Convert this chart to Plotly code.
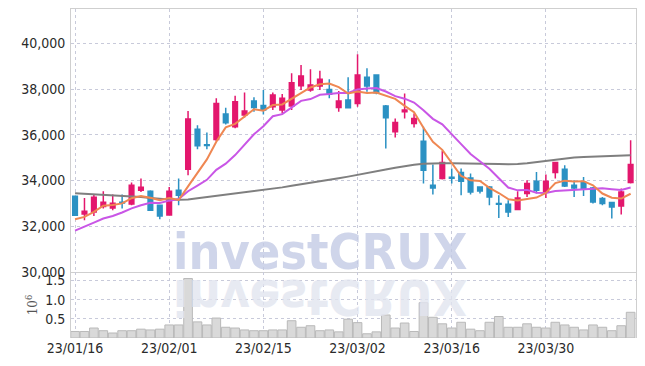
import plotly.graph_objects as go

dates = [
    "2023-01-16", "2023-01-17", "2023-01-18", "2023-01-19", "2023-01-20",
    "2023-01-25", "2023-01-26", "2023-01-27", "2023-01-30", "2023-01-31",
    "2023-02-01", "2023-02-02", "2023-02-03", "2023-02-06", "2023-02-07",
    "2023-02-08", "2023-02-09", "2023-02-10", "2023-02-13", "2023-02-14",
    "2023-02-15", "2023-02-16", "2023-02-17", "2023-02-20", "2023-02-21",
    "2023-02-22", "2023-02-23", "2023-02-24", "2023-02-27", "2023-02-28",
    "2023-03-02", "2023-03-03", "2023-03-06", "2023-03-07", "2023-03-08",
    "2023-03-09", "2023-03-10", "2023-03-13", "2023-03-14", "2023-03-15",
    "2023-03-16", "2023-03-17", "2023-03-20", "2023-03-21", "2023-03-22",
    "2023-03-23", "2023-03-24", "2023-03-27", "2023-03-28", "2023-03-29",
    "2023-03-30", "2023-03-31", "2023-04-03", "2023-04-04", "2023-04-05",
    "2023-04-06", "2023-04-07", "2023-04-10", "2023-04-11", "2023-04-12",
]

open_ = [33314, 32539, 32627, 32863, 32802, 33051, 32977, 33577, 33533, 32920,
         32496, 33577, 34496, 36247, 35560, 35796, 36904, 36348, 36860, 37473,
         37285, 37224, 37079, 37254, 38143, 37955, 38130, 37985, 37197, 37517,
         37373, 38511, 38611, 37254, 36129, 37005, 36497, 35722, 33796, 34089,
         34146, 34352, 34115, 33721, 33721, 32995, 32964, 32732, 33432, 33971,
         33502, 34352, 34496, 33796, 33914, 33677, 33213, 33038, 32890, 33914]
high = [33350, 33240, 33415, 33533, 33389, 33389, 33914, 34089, 33577, 32942,
        33722, 34089, 37035, 36422, 36103, 37592, 37180, 37705, 37854, 37636,
        37955, 37854, 37780, 38686, 39049, 38861, 38800, 38423, 37911, 38511,
        39518, 38905, 38640, 37298, 36716, 37810, 36935, 36348, 34702, 35297,
        34527, 34527, 34308, 33750, 33765, 33358, 33139, 33533, 34015, 34377,
        34264, 34800, 34671, 34015, 34159, 33720, 33284, 33060, 33651, 35766]
low = [32450, 32263, 32452, 32776, 32701, 32776, 32920, 33502, 32680, 32307,
       32482, 32920, 34233, 35372, 35372, 35722, 36453, 36291, 36760, 37005,
       36882, 37079, 36935, 37079, 37955, 37880, 37955, 37592, 37005, 37170,
       37224, 37880, 37767, 35402, 35884, 36716, 36322, 33870, 33389, 34050,
       33870, 33358, 33389, 33432, 32920, 32364, 32408, 32700, 33284, 33432,
       33240, 34089, 33721, 33284, 33327, 32995, 32920, 32338, 32513, 33870]
close = [32482, 32657, 33270, 33051, 33008, 33020, 33796, 33708, 32701, 32452,
         33533, 33358, 36685, 35516, 35534, 37373, 36523, 37443, 37035, 37197,
         37079, 37736, 37592, 38274, 38568, 38174, 38423, 37767, 37473, 37180,
         38611, 38130, 37837, 36742, 36541, 37079, 36716, 34452, 33677, 34790,
         34102, 33971, 33502, 33546, 33284, 32964, 32627, 33240, 33870, 33577,
         33971, 34790, 33765, 33677, 33651, 33065, 32995, 32846, 33502, 34702]

ma5 = [32310, 32410, 32630, 32900, 32930, 33001, 33229, 33317, 33247, 33135,
       33238, 33150, 33746, 34309, 34925, 35693, 36326, 36478, 36782, 37114,
       37055, 37298, 37328, 37576, 37850, 38069, 38206, 38241, 38081, 37803,
       37891, 37832, 37846, 37700, 37572, 37266, 36983, 36306, 35693, 35343,
       34747, 34198, 34008, 33982, 33681, 33453, 33185, 33132, 33197, 33256,
       33457, 33890, 33995, 33956, 33971, 33790, 33431, 33247, 33212, 33422]
ma10 = [31810, 31970, 32160, 32340, 32450, 32600, 32780, 32920, 33030, 33015,
        33120, 33190, 33531, 33778, 34030, 34466, 34738, 35112, 35545, 36020,
        36374, 36812, 36903, 37179, 37482, 37562, 37752, 37785, 37828, 37827,
        37980, 38019, 38044, 37891, 37688, 37578, 37408, 37076, 36697, 36458,
        36007, 35591, 35157, 34838, 34512, 34100, 33692, 33570, 33590, 33468,
        33455, 33537, 33563, 33577, 33613, 33623, 33660, 33621, 33584, 33696]
ma60 = [33440, 33420, 33400, 33380, 33360, 33340, 33310, 33280, 33240, 33200,
        33170, 33160, 33170, 33220, 33270, 33320, 33370, 33420, 33470, 33520,
        33575, 33640, 33700, 33770, 33830, 33900, 33960, 34030, 34100, 34170,
        34240, 34320, 34400, 34480, 34560, 34630, 34690, 34730, 34750, 34750,
        34750, 34750, 34745, 34740, 34730, 34720, 34715, 34720, 34760, 34810,
        34870, 34930, 34980, 35010, 35030, 35050, 35060, 35075, 35090, 35110]

volume_m = [0.17, 0.17, 0.26, 0.19, 0.13, 0.19, 0.19, 0.23, 0.21, 0.23,
            0.34, 0.34, 1.55, 0.42, 0.34, 0.52, 0.28, 0.26, 0.21, 0.19,
            0.19, 0.21, 0.21, 0.45, 0.28, 0.32, 0.19, 0.21, 0.16, 0.49,
            0.40, 0.11, 0.16, 0.60, 0.26, 0.39, 0.17, 0.92, 0.54, 0.37,
            0.26, 0.41, 0.23, 0.19, 0.41, 0.56, 0.28, 0.28, 0.37, 0.28,
            0.26, 0.41, 0.34, 0.28, 0.21, 0.34, 0.28, 0.19, 0.32, 0.67]

tick_dates = ["2023-01-16", "2023-02-01", "2023-02-15", "2023-03-02", "2023-03-16", "2023-03-30"]
tick_text = ["23/01/16", "23/02/01", "23/02/15", "23/03/02", "23/03/16", "23/03/30"]
price_ticks = [30000, 32000, 34000, 36000, 38000, 40000]
vol_ticks = [0.5, 1.0, 1.5]
vol_tick_text = ["0.5", "1.0", "1.5"]

UP = "#e3176d"
DOWN = "#2b91c3"
FONT = "DejaVu Sans Condensed, DejaVu Sans, sans-serif"
GRID = "rgb(200,202,218)"
LINE = "#cfcfcf"

fig = go.Figure()

fig.add_trace(go.Candlestick(
    x=dates, open=open_, high=high, low=low, close=close,
    increasing=dict(line=dict(color=UP, width=1.5), fillcolor=UP),
    decreasing=dict(line=dict(color=DOWN, width=1.5), fillcolor=DOWN),
    xaxis="x", yaxis="y", showlegend=False, hoverinfo="skip",
))
fig.add_trace(go.Scatter(x=dates, y=ma60, mode="lines", line=dict(color="#7f7f7f", width=2),
                         xaxis="x", yaxis="y", showlegend=False, hoverinfo="skip"))
fig.add_trace(go.Scatter(x=dates, y=ma10, mode="lines", line=dict(color="#c956e6", width=2),
                         xaxis="x", yaxis="y", showlegend=False, hoverinfo="skip"))
fig.add_trace(go.Scatter(x=dates, y=ma5, mode="lines", line=dict(color="#ef8752", width=2),
                         xaxis="x", yaxis="y", showlegend=False, hoverinfo="skip"))
fig.add_trace(go.Bar(x=dates, y=volume_m, marker=dict(color="#d9d9d9", line=dict(color="#b9b9b9", width=1)),
                     xaxis="x2", yaxis="y2", showlegend=False, hoverinfo="skip"))

split = (338 - 272) / 329.0

fig.update_layout(
    width=645, height=366,
    margin=dict(l=71, r=9, t=9, b=28, pad=0, autoexpand=False),
    paper_bgcolor="white", plot_bgcolor="white",
    bargap=0.08,
    font=dict(family=FONT, size=14, color="#2a2a2a"),
    xaxis=dict(domain=[0, 1], anchor="y", type="category", range=[-0.43, 59.57],
               rangeslider=dict(visible=False), showticklabels=False, automargin=False,
               tickvals=tick_dates, showgrid=True, gridcolor=GRID, griddash="dot", gridwidth=1,
               showline=True, linecolor=LINE, linewidth=1, mirror=True, ticks=""),
    yaxis=dict(domain=[split, 1], anchor="x", range=[30000, 41500], tickvals=price_ticks,
               tickformat=",d", showgrid=True, gridcolor=GRID, griddash="dot", gridwidth=1,
               showline=True, linecolor=LINE, linewidth=1, mirror=True, ticks="",
               zeroline=False, ticklabelstandoff=2, automargin=False),
    xaxis2=dict(domain=[0, 1], anchor="y2", type="category", range=[-0.43, 59.57], matches="x",
                tickvals=tick_dates, ticktext=tick_text, showgrid=True, gridcolor=GRID,
                griddash="dot", gridwidth=1, showline=False, ticks="", ticklabelstandoff=0,
                automargin=False),
    yaxis2=dict(domain=[0, split], anchor="x2", range=[0, 1.72], tickvals=vol_ticks,
                ticktext=vol_tick_text, showgrid=True, gridcolor=GRID, griddash="dot", gridwidth=1,
                showline=True, linecolor=LINE, linewidth=1, mirror=True, ticks="", zeroline=False,
                ticklabelstandoff=2, automargin=False,
                title=dict(text="10<sup>6</sup>", font=dict(family="DejaVu Serif, serif", size=12, color="#555"),
                           standoff=4)),
    annotations=[
        dict(text="<b>investCRUX</b>", xref="paper", yref="paper", x=0.4406, y=0.261,
             xanchor="center", yanchor="middle", showarrow=False,
             font=dict(family=FONT, size=50, color="rgb(196,203,229)"), opacity=0.8),
        dict(text="<b>investCRUX</b>", xref="paper", yref="paper", x=0.4406, y=0.124,
             xanchor="center", yanchor="middle", showarrow=False,
             font=dict(family=FONT, size=50, color="rgb(226,229,240)"), opacity=0.8),
    ],
)

post = """
var gd = document.getElementById('{plot_id}');
var t = gd.querySelector('g.annotation[data-index="1"] text.annotation-text');
if (t) {
  t.style.transformBox = 'fill-box';
  t.style.transformOrigin = '50% 50%';
  t.style.transform = 'scaleY(-1)';
}
"""

fig.write_html("out.html", post_script=post)
